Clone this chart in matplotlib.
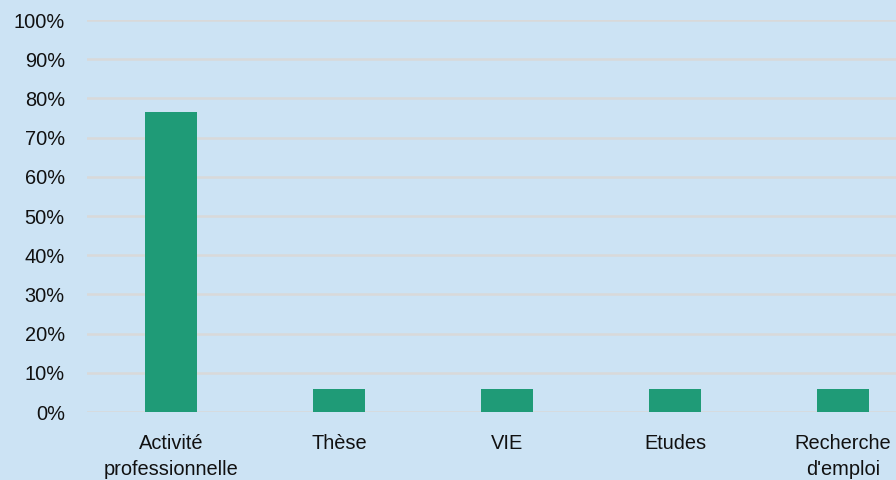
import numpy as np
import matplotlib.pyplot as plt
from matplotlib.ticker import PercentFormatter

# Données
categories = ["Activité\nprofessionnelle", "Thèse", "VIE", "Etudes", "Recherche\nd'emploi"]
valeurs = [76.5, 5.9, 5.9, 5.9, 5.9]

bg = "#cce3f4"
plt.rcParams['font.family'] = ['Liberation Sans Narrow', 'Liberation Sans', 'DejaVu Sans']

fig = plt.figure(figsize=(8.96, 4.8), dpi=100)
fig.patch.set_facecolor(bg)
# l'axe dépasse à droite de la figure (dernière catégorie coupée)
ax = fig.add_axes([87 / 896, 68 / 480, 840 / 896, 392 / 480])
ax.set_facecolor(bg)

x = np.arange(len(categories))
ax.bar(x, valeurs, width=0.31, color="#1f9b77", zorder=3)

ax.set_xlim(-0.5, len(categories) - 0.5)
ax.set_ylim(0, 100)
ax.set_yticks(np.arange(0, 101, 10))
ax.yaxis.set_major_formatter(PercentFormatter(decimals=0))
ax.set_xticks(x)
ax.set_xticklabels(categories, linespacing=1.5)
ax.grid(axis='y', color="#d9d9d9", linewidth=1.8, zorder=0)
ax.set_axisbelow(True)
for s in ax.spines.values():
    s.set_visible(False)
ax.tick_params(axis='y', length=0, pad=16, labelsize=14.4, colors="#111111")
ax.tick_params(axis='x', length=0, pad=15.5, labelsize=14.4, colors="#111111")

fig.savefig("out.png", dpi=100, facecolor=bg)
